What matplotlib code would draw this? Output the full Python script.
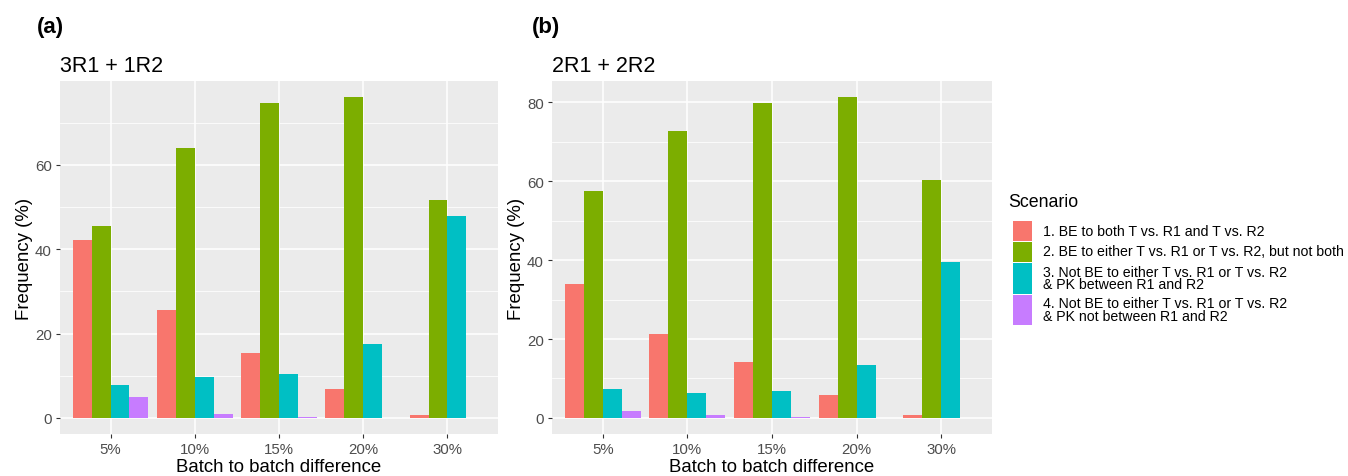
import numpy as np
import matplotlib.pyplot as plt
from matplotlib.patches import Rectangle

plt.rcParams["font.family"] = ["Liberation Sans", "DejaVu Sans"]

# ------------------------------------------------------------------ #
# Data (frequency, %)
# ------------------------------------------------------------------ #
categories = ["5%", "10%", "15%", "20%", "30%"]
scenario_labels = [
    "1. BE to both T vs. R1 and T vs. R2",
    "2. BE to either T vs. R1 or T vs. R2, but not both",
    "3. Not BE to either T vs. R1 or T vs. R2\n& PK between R1 and R2",
    "4. Not BE to either T vs. R1 or T vs. R2\n& PK not between R1 and R2",
]
colors = ["#F8766D", "#7CAE00", "#00BFC4", "#C77CFF"]

# panel (a): 3R1 + 1R2
a_s1 = [42.3, 25.6, 15.4, 6.8, 0.8]
a_s2 = [45.5, 64.1, 74.6, 76.1, 51.7]
a_s3 = [7.9, 9.8, 10.4, 17.6, 48.0]
a_s4 = [4.9, 0.9, 0.3, 0.0, 0.0]

# panel (b): 2R1 + 2R2
b_s1 = [33.9, 21.2, 14.1, 5.8, 0.8]
b_s2 = [57.4, 72.6, 79.7, 81.3, 60.3]
b_s3 = [7.4, 6.3, 6.8, 13.4, 39.4]
b_s4 = [1.8, 0.8, 0.3, 0.0, 0.0]

W, H = 1348, 477
fig = plt.figure(figsize=(W / 100, H / 100), dpi=100)
fig.patch.set_facecolor("white")


def px_axes(x0, y0, x1, y1):
    # pixel box (top-left origin) -> figure axes
    return fig.add_axes([x0 / W, (H - y1) / H, (x1 - x0) / W, (y1 - y0) / H])


def draw_panel(ax, series, major, title):
    n = len(series)
    x = np.arange(len(categories))
    w = 0.9 / n
    for i, vals in enumerate(series):
        ax.bar(x - 0.45 + w * (i + 0.5), vals, width=w, color=colors[i],
               linewidth=0, zorder=3)
    ymax = max(max(s) for s in series)
    ax.set_ylim(-0.05 * ymax, 1.05 * ymax)
    ax.set_xlim(-0.6, len(categories) - 0.4)
    ax.set_facecolor("#EBEBEB")
    for s in ax.spines.values():
        s.set_visible(False)
    ax.set_xticks(x)
    ax.set_xticklabels(categories)
    ax.set_yticks(major)
    ax.set_yticks([m + 10 for m in major if m + 10 < 1.05 * ymax], minor=True)
    ax.grid(True, which="major", color="white", linewidth=1.1, zorder=0)
    ax.grid(True, which="minor", axis="y", color="white", linewidth=0.55, zorder=0)
    ax.tick_params(which="major", length=3, width=0.8, color="#333333",
                   labelsize=10.8, labelcolor="#4D4D4D", pad=3)
    ax.tick_params(which="minor", length=0)
    ax.set_xlabel("Batch to batch difference", fontsize=13.4, color="black", labelpad=1)
    ax.set_ylabel("Frequency (%)", fontsize=13.4, color="black", labelpad=1.5)
    ax.set_title(title, loc="left", fontsize=15.5, pad=7)


ax_a = px_axes(60, 82, 498, 435)
draw_panel(ax_a, [a_s1, a_s2, a_s3, a_s4], [0, 20, 40, 60], "3R1 + 1R2")
ax_b = px_axes(552, 82, 992, 435)
draw_panel(ax_b, [b_s1, b_s2, b_s3, b_s4], [0, 20, 40, 60, 80], "2R1 + 2R2")

fig.text(37 / W, 1 - 28 / H, "(a)", fontsize=16, fontweight="bold", va="center")
fig.text(532 / W, 1 - 28 / H, "(b)", fontsize=16, fontweight="bold", va="center")

# legend, drawn by hand to mimic ggplot's stretched keys
fig.text(1008 / W, 1 - 203 / H, "Scenario", fontsize=12.8, va="center")
key_edges = [221, 242, 263, 295, 326]
for i, lab in enumerate(scenario_labels):
    top, bot = key_edges[i], key_edges[i + 1]
    fig.patches.append(Rectangle((1013 / W, 1 - (bot - 0.5) / H), 19 / W,
                                 (bot - top - 1) / H, transform=fig.transFigure,
                                 facecolor=colors[i], edgecolor="none"))
    fig.text(1043 / W, 1 - (top + bot) / 2 / H, lab, fontsize=10.2, va="center",
             linespacing=0.9)

fig.savefig("out.png", dpi=100)
